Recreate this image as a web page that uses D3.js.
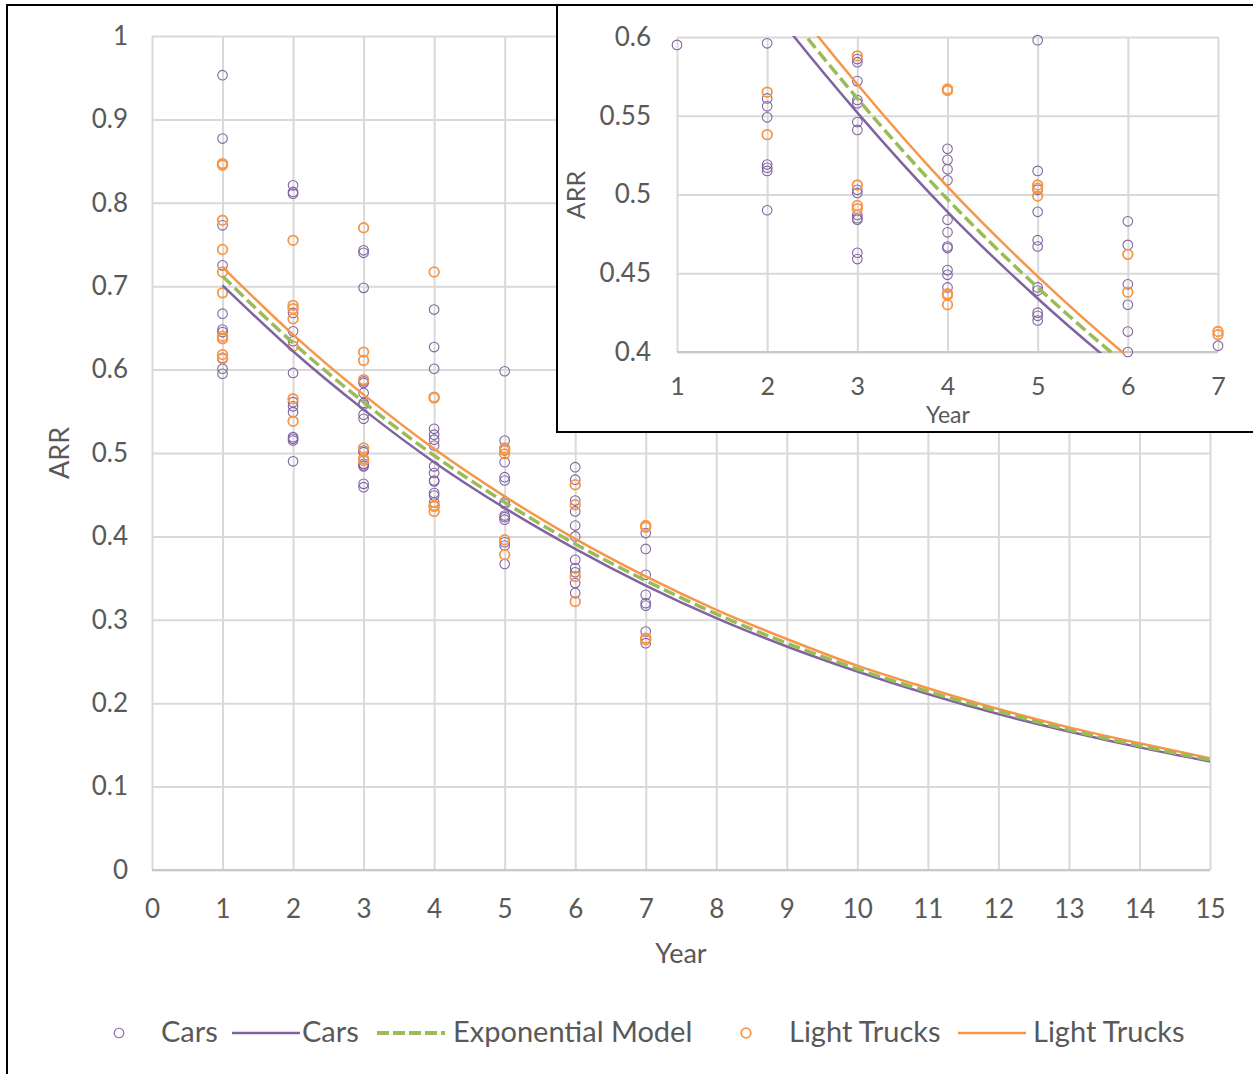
<!DOCTYPE html>
<html>
<head>
<meta charset="utf-8">
<script src="https://cdn.jsdelivr.net/npm/d3@7"></script>
<style>
  html, body { margin: 0; padding: 0; background: #fff; }
  svg { display: block; font-family: Lato, "Open Sans", sans-serif; }
</style>
</head>
<body>
<svg id="chart" width="1253" height="1074"></svg>
<script>
// ---------------- DATA ----------------
const years = [1, 2, 3, 4, 5, 6, 7];

const carsARR = [
  [0.953, 0.877, 0.773, 0.725, 0.667, 0.648, 0.645, 0.637, 0.614, 0.601, 0.595],
  [0.821, 0.813, 0.811, 0.668, 0.646, 0.634, 0.596, 0.561, 0.556, 0.549, 0.519, 0.517, 0.515, 0.490],
  [0.743, 0.740, 0.698, 0.586, 0.584, 0.572, 0.560, 0.558, 0.546, 0.541, 0.503, 0.501, 0.487, 0.485, 0.484, 0.463, 0.459],
  [0.672, 0.627, 0.601, 0.529, 0.522, 0.516, 0.509, 0.484, 0.476, 0.467, 0.466, 0.452, 0.449, 0.441],
  [0.598, 0.515, 0.503, 0.489, 0.471, 0.467, 0.441, 0.439, 0.425, 0.423, 0.420, 0.393, 0.389, 0.367],
  [0.483, 0.468, 0.443, 0.430, 0.413, 0.400, 0.372, 0.362, 0.357, 0.344, 0.332],
  [0.404, 0.385, 0.354, 0.330, 0.320, 0.317, 0.286, 0.272]
];

const trucksARR = [
  [0.847, 0.845, 0.779, 0.744, 0.717, 0.692, 0.640, 0.637, 0.618, 0.613],
  [0.755, 0.677, 0.673, 0.661, 0.628, 0.565, 0.538],
  [0.770, 0.621, 0.611, 0.588, 0.506, 0.493, 0.491],
  [0.717, 0.567, 0.566, 0.437, 0.436, 0.430],
  [0.506, 0.504, 0.499, 0.396, 0.378],
  [0.462, 0.438, 0.352, 0.322],
  [0.413, 0.411, 0.278, 0.276]
];

const curveYears = [1, 2, 3, 4, 5, 6, 7, 8, 9, 10, 11, 12, 13, 14, 15];
const carsFit   = [0.701, 0.622, 0.552, 0.489, 0.434, 0.385, 0.341, 0.302, 0.268, 0.238, 0.211, 0.187, 0.166, 0.147, 0.130];
const modelFit  = [0.712, 0.632, 0.561, 0.497, 0.441, 0.391, 0.347, 0.307, 0.272, 0.241, 0.214, 0.190, 0.168, 0.149, 0.132];
const trucksFit = [0.723, 0.642, 0.570, 0.505, 0.448, 0.397, 0.352, 0.312, 0.277, 0.245, 0.218, 0.193, 0.171, 0.152, 0.134];

const xTicks = [0, 1, 2, 3, 4, 5, 6, 7, 8, 9, 10, 11, 12, 13, 14, 15];
const yTicks = [0, 0.1, 0.2, 0.3, 0.4, 0.5, 0.6, 0.7, 0.8, 0.9, 1];
const yTickLabels = ["0", "0.1", "0.2", "0.3", "0.4", "0.5", "0.6", "0.7", "0.8", "0.9", "1"];
const insetXTicks = [1, 2, 3, 4, 5, 6, 7];
const insetYTicks = [0.4, 0.45, 0.5, 0.55, 0.6];
const insetYTickLabels = ["0.4", "0.45", "0.5", "0.55", "0.6"];

const legendLabels = ["Cars", "Cars", "Exponential Model", "Light Trucks", "Light Trucks"];

// ---------------- STYLE ----------------
const PURPLE = "#8064a2", ORANGE = "#f79646", GREEN = "#9bbb59";
const GRID = "#d9d9d9", TEXT = "#595959";

const svg = d3.select("#chart");

function flatten(arr) {
  const out = [];
  arr.forEach((vals, i) => vals.forEach(v => out.push({ x: years[i], y: v })));
  return out;
}
const carsPts = flatten(carsARR), trucksPts = flatten(trucksARR);
const fits = [
  { vals: carsFit, color: PURPLE, width: 2.5, dash: null },
  { vals: trucksFit, color: ORANGE, width: 2.5, dash: null },
  { vals: modelFit, color: GREEN, width: 3.5, dash: "12,5" }
];

function drawPanel(g, x, y, opts) {
  const [x0, x1] = x.range(), [y0, y1] = y.range();
  g.append("g").attr("transform", `translate(0,${y0})`)
    .call(d3.axisBottom(x).tickValues(opts.xTicks).tickSize(-(y0 - y1)).tickFormat(d => d).tickPadding(opts.xPad))
    .call(a => a.select(".domain").remove())
    .call(a => a.selectAll("line").attr("stroke", GRID).attr("stroke-width", 2))
    .call(a => a.selectAll("text").attr("fill", TEXT).attr("font-size", opts.xfs || opts.fs).attr("font-family", "Lato, sans-serif"));
  g.append("g").attr("transform", `translate(${x0},0)`)
    .call(d3.axisLeft(y).tickValues(opts.yTicks).tickSize(-(x1 - x0)).tickFormat((d, i) => opts.yLabels[i]).tickPadding(opts.yPad))
    .call(a => a.select(".domain").remove())
    .call(a => a.selectAll("line").attr("stroke", GRID).attr("stroke-width", 2))
    .call(a => a.selectAll("text").attr("fill", TEXT).attr("font-size", opts.fs).attr("font-family", "Lato, sans-serif"));
  g.append("line").attr("x1", x0).attr("x2", x1).attr("y1", y0).attr("y2", y0)
    .attr("stroke", "#c8c8c8").attr("stroke-width", 2);

  const clipId = opts.clipId;
  g.append("clipPath").attr("id", clipId).append("rect")
    .attr("x", x0).attr("y", y1 - 1).attr("width", x1 - x0).attr("height", y0 - y1 + 2);

  const inRange = p => p.y >= y.domain()[0] - 1e-9 && p.y <= y.domain()[1] + 1e-9;
  g.selectAll(".car").data(carsPts.filter(inRange)).enter().append("circle")
    .attr("cx", d => x(d.x)).attr("cy", d => y(d.y)).attr("r", 4.8)
    .attr("fill", "none").attr("stroke", PURPLE).attr("stroke-width", 1.1);
  g.selectAll(".truck").data(trucksPts.filter(inRange)).enter().append("circle")
    .attr("cx", d => x(d.x)).attr("cy", d => y(d.y)).attr("r", 4.8)
    .attr("fill", "none").attr("stroke", ORANGE).attr("stroke-width", 1.8);

  const plot = g.append("g").attr("clip-path", `url(#${clipId})`);
  const line = d3.line().x((d, i) => x(curveYears[i])).y(d => y(d)).curve(d3.curveMonotoneX);
  fits.forEach(f => {
    plot.append("path").attr("d", line(f.vals)).attr("fill", "none")
      .attr("stroke", f.color).attr("stroke-width", f.width)
      .attr("stroke-dasharray", f.dash);
  });
}

// ---------------- MAIN CHART ----------------
const xMain = d3.scaleLinear().domain([0, 15]).range([152, 1210]);
const yMain = d3.scaleLinear().domain([0, 1]).range([870, 36]);
const gMain = svg.append("g");
drawPanel(gMain, xMain, yMain, {
  xTicks, yTicks, yLabels: yTickLabels, fs: 26, xPad: 30, yPad: 24, clipId: "clipMain"
});
gMain.append("text").attr("x", 681).attr("y", 956).attr("text-anchor", "middle")
  .attr("dominant-baseline", "middle").attr("fill", TEXT).attr("font-size", 27).text("Year");
gMain.append("text").attr("transform", "translate(62,453) rotate(-90)").attr("text-anchor", "middle")
  .attr("dominant-baseline", "middle").attr("fill", TEXT).attr("font-size", 27).text("ARR");

// outer frame
svg.append("rect").attr("x", 7).attr("y", 5).attr("width", 1400).attr("height", 1200)
  .attr("fill", "none").attr("stroke", "#000").attr("stroke-width", 2);

// ---------------- INSET ----------------
const gIn = svg.append("g");
gIn.append("rect").attr("x", 557).attr("y", 5).attr("width", 800).attr("height", 427)
  .attr("fill", "#fff").attr("stroke", "#000").attr("stroke-width", 2);
const xIn = d3.scaleLinear().domain([1, 7]).range([677, 1218]);
const yIn = d3.scaleLinear().domain([0.4, 0.6]).range([352, 37]);
drawPanel(gIn, xIn, yIn, {
  xTicks: insetXTicks, yTicks: insetYTicks, yLabels: insetYTickLabels, fs: 26, xfs: 25, xPad: 25, yPad: 26, clipId: "clipIn"
});
gIn.append("text").attr("x", 948).attr("y", 417).attr("text-anchor", "middle")
  .attr("dominant-baseline", "middle").attr("fill", TEXT).attr("font-size", 23).text("Year");
gIn.append("text").attr("transform", "translate(579,195) rotate(-90)").attr("text-anchor", "middle")
  .attr("dominant-baseline", "middle").attr("fill", TEXT).attr("font-size", 25).text("ARR");

// ---------------- LEGEND ----------------
const lg = svg.append("g").attr("font-size", 29).attr("fill", TEXT);
const LY = 1033;
const legendItems = [
  { type: "circle", color: PURPLE, sx: 119, tx: 161, sw: 1.1 },
  { type: "line", color: PURPLE, sx: 232, ex: 300, tx: 302, w: 2.5, dash: null },
  { type: "line", color: GREEN, sx: 377, ex: 445, tx: 453, w: 4, dash: "12,4" },
  { type: "circle", color: ORANGE, sx: 746, tx: 789, sw: 1.8 },
  { type: "line", color: ORANGE, sx: 958, ex: 1026, tx: 1033, w: 2.5, dash: null }
];
legendItems.forEach((it, i) => {
  if (it.type === "circle") {
    lg.append("circle").attr("cx", it.sx).attr("cy", LY).attr("r", 4.8)
      .attr("fill", "none").attr("stroke", it.color).attr("stroke-width", it.sw);
  } else {
    lg.append("line").attr("x1", it.sx).attr("x2", it.ex).attr("y1", LY).attr("y2", LY)
      .attr("stroke", it.color).attr("stroke-width", it.w).attr("stroke-dasharray", it.dash);
  }
  lg.append("text").attr("x", it.tx).attr("y", LY + 2).attr("dominant-baseline", "middle")
    .text(legendLabels[i]);
});
</script>
</body>
</html>
